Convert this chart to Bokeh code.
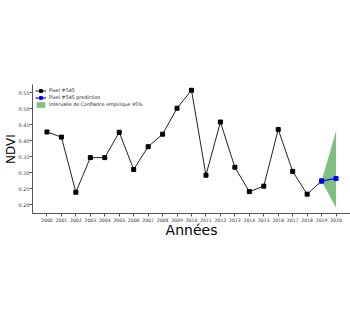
from bokeh.plotting import figure
from bokeh.models import (Legend, LegendItem, FixedTicker, CustomJSTickFormatter)
from bokeh.embed import file_html
from bokeh.resources import INLINE

years = list(range(2000, 2019 + 1))
ndvi = [0.427, 0.411, 0.239, 0.347, 0.347, 0.426, 0.310, 0.381, 0.420, 0.501,
        0.557, 0.292, 0.458, 0.317, 0.241, 0.258, 0.435, 0.304, 0.233, 0.274]
pred_years = [2019, 2020]
pred_vals = [0.274, 0.282]
ci_lower = [0.274, 0.191]
ci_upper = [0.274, 0.430]
y_ticks = [0.20, 0.25, 0.30, 0.35, 0.40, 0.45, 0.50, 0.55]
x_ticks = list(range(2000, 2021))

p = figure(width=350, height=322, output_backend="svg", toolbar_location=None,
           x_range=(1999, 2021), y_range=(0.1727, 0.575),
           min_border_left=30, min_border_right=0, min_border_top=84, min_border_bottom=109)
p.outline_line_color = None
p.xgrid.visible = False
p.ygrid.visible = False
p.background_fill_color = "white"
p.border_fill_color = "white"

ci = p.varea(x=pred_years, y1=ci_lower, y2=ci_upper, fill_color="green", fill_alpha=0.5)
l1 = p.line(years, ndvi, line_color="#222222", line_width=1)
s1 = p.scatter(years, ndvi, marker="square", size=4, color="black")
l2 = p.line(pred_years, pred_vals, line_color="blue", line_width=1.2)
s2 = p.scatter(pred_years, pred_vals, marker="square", size=4, color="blue")

for ax in (p.xaxis[0], p.yaxis[0]):
    ax.axis_line_color = "#555555"
    ax.axis_line_width = 1
    ax.major_tick_line_color = "#555555"
    ax.major_tick_out = 3
    ax.major_tick_in = 0
    ax.minor_tick_out = 0
    ax.minor_tick_in = 0
    ax.major_label_text_font = "DejaVu Sans"
    ax.major_label_text_color = "#333333"
    ax.major_label_standoff = 1
    ax.axis_label_text_font = "DejaVu Sans"
    ax.axis_label_text_font_style = "normal"
    ax.axis_label_text_color = "black"

p.xaxis.major_label_text_font_size = "4.6px"
p.yaxis.major_label_text_font_size = "4.9px"
p.yaxis.major_label_standoff = 0
p.xaxis.ticker = FixedTicker(ticks=x_ticks)
p.yaxis.ticker = FixedTicker(ticks=y_ticks)
p.yaxis.formatter = CustomJSTickFormatter(code="return tick.toFixed(2);")
p.xaxis.axis_label = "Années"
p.xaxis.axis_label_text_font_size = "14px"
p.xaxis.axis_label_standoff = -3
p.yaxis.axis_label = "NDVI"
p.yaxis.axis_label_text_font_size = "12px"
p.yaxis.axis_label_standoff = -2

legend = Legend(items=[
    LegendItem(label="Pixel #545", renderers=[l1, s1]),
    LegendItem(label="Pixel #545 prediction", renderers=[l2, s2]),
    LegendItem(label="Intervalle de Confiance empirique 95%", renderers=[ci]),
], location=(3, 105), margin=0, padding=0, spacing=0,
    label_height=7, glyph_height=7, glyph_width=11, label_standoff=3,
    label_text_font="DejaVu Sans", label_text_font_size="4.8px",
    label_text_color="#222222", border_line_alpha=0, background_fill_alpha=0)
p.add_layout(legend)

open("out.html", "w").write(file_html(p, INLINE))
